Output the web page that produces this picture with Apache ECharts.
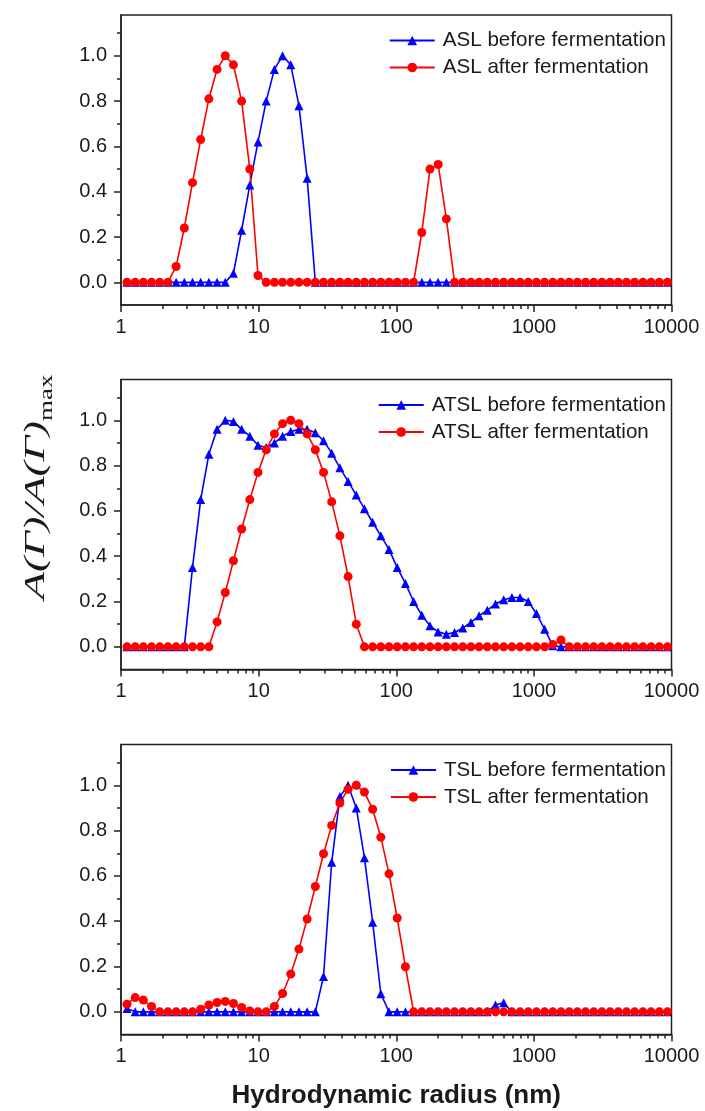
<!DOCTYPE html>
<html>
<head>
<meta charset="utf-8">
<script src="https://cdn.jsdelivr.net/npm/echarts@6/dist/echarts.min.js"></script>
<style>
  html, body { margin: 0; padding: 0; background: #fff; }
  #chart { width: 705px; height: 1111px; }
</style>
</head>
<body>
<div id="chart"></div>
<script>
// Hydrodynamic radius bins (nm), shared by all three size distributions
const radius = [
  1.105, 1.268, 1.454, 1.667, 1.912, 2.193, 2.515, 2.884, 3.308, 3.793,
  4.350, 4.989, 5.722, 6.561, 7.525, 8.630, 9.897, 11.35, 13.02, 14.93,
  17.12, 19.63, 22.52, 25.82, 29.62, 33.96, 38.95, 44.67, 51.23, 58.75,
  67.38, 77.27, 88.62, 101.6, 116.6, 133.7, 153.3, 175.8, 201.6, 231.2,
  265.2, 304.1, 348.8, 399.9, 458.7, 526.0, 603.3, 691.8, 793.5, 910.0,
  1043.5, 1196.7, 1372.5, 1574.0, 1805.2, 2070.1, 2374.1, 2722.7, 3122.5, 3580.9,
  4106.7, 4709.7, 5401.3, 6194.4, 7103.9, 8147.0, 9343.1
];

// A(Γ)/A(Γ)max for each sample
const aslBefore = [
  0, 0, 0, 0, 0, 0, 0, 0, 0, 0,
  0, 0, 0, 0.04, 0.23, 0.43, 0.62, 0.80, 0.94, 1.00,
  0.96, 0.78, 0.46, 0, 0, 0, 0, 0, 0, 0,
  0, 0, 0, 0, 0, 0, 0, 0, 0, 0,
  0, 0, 0, 0, 0, 0, 0, 0, 0, 0,
  0, 0, 0, 0, 0, 0, 0, 0, 0, 0,
  0, 0, 0, 0, 0, 0, 0
];
const aslAfter = [
  0, 0, 0, 0, 0, 0, 0.07, 0.24, 0.44, 0.63,
  0.81, 0.94, 1.00, 0.96, 0.80, 0.50, 0.03, 0, 0, 0,
  0, 0, 0, 0, 0, 0, 0, 0, 0, 0,
  0, 0, 0, 0, 0, 0, 0.22, 0.50, 0.52, 0.28,
  0, 0, 0, 0, 0, 0, 0, 0, 0, 0,
  0, 0, 0, 0, 0, 0, 0, 0, 0, 0,
  0, 0, 0, 0, 0, 0, 0
];
const atslBefore = [
  0, 0, 0, 0, 0, 0, 0, 0, 0.35, 0.65,
  0.85, 0.96, 1.00, 0.995, 0.96, 0.93, 0.89, 0.88, 0.90, 0.93,
  0.95, 0.96, 0.96, 0.945, 0.91, 0.855, 0.79, 0.73, 0.67, 0.61,
  0.55, 0.49, 0.43, 0.35, 0.28, 0.20, 0.14, 0.093, 0.066, 0.056,
  0.063, 0.083, 0.108, 0.137, 0.162, 0.189, 0.208, 0.218, 0.218, 0.20,
  0.147, 0.078, 0.005, 0, 0, 0, 0, 0, 0, 0,
  0, 0, 0, 0, 0, 0, 0
];
const atslAfter = [
  0, 0, 0, 0, 0, 0, 0, 0, 0, 0,
  0, 0.11, 0.24, 0.38, 0.52, 0.65, 0.77, 0.87, 0.94, 0.985,
  1.00, 0.985, 0.94, 0.87, 0.77, 0.64, 0.49, 0.31, 0.10, 0,
  0, 0, 0, 0, 0, 0, 0, 0, 0, 0,
  0, 0, 0, 0, 0, 0, 0, 0, 0, 0,
  0, 0, 0.01, 0.03, 0, 0, 0, 0, 0, 0,
  0, 0, 0, 0, 0, 0, 0
];
const tslBefore = [
  0.015, 0, 0, 0, 0, 0, 0, 0, 0, 0,
  0, 0, 0, 0, 0, 0, 0, 0, 0, 0,
  0, 0, 0, 0, 0.156, 0.66, 0.95, 1.00, 0.90, 0.68,
  0.395, 0.08, 0, 0, 0, 0, 0, 0, 0, 0,
  0, 0, 0, 0, 0, 0.03, 0.04, 0, 0, 0,
  0, 0, 0, 0, 0, 0, 0, 0, 0, 0,
  0, 0, 0, 0, 0, 0, 0
];
const tslAfter = [
  0.034, 0.063, 0.052, 0.024, 0, 0, 0, 0, 0, 0.012,
  0.03, 0.041, 0.046, 0.037, 0.019, 0.004, 0, 0, 0.024, 0.081,
  0.167, 0.277, 0.41, 0.553, 0.698, 0.823, 0.922, 0.982, 1.00, 0.97,
  0.894, 0.771, 0.609, 0.414, 0.199, 0, 0, 0, 0, 0,
  0, 0, 0, 0, 0, 0, 0, 0, 0, 0,
  0, 0, 0, 0, 0, 0, 0, 0, 0, 0,
  0, 0, 0, 0, 0, 0, 0
];

const sampleNames = ['ASL', 'ATSL', 'TSL'];
const beforeSeries = [aslBefore, atslBefore, tslBefore];
const afterSeries = [aslAfter, atslAfter, tslAfter];

// Axis ticks
const xTicks = [1, 10, 100, 1000, 10000];
const xMinorTicks = [
  2, 3, 4, 5, 6, 7, 8, 9,
  20, 30, 40, 50, 60, 70, 80, 90,
  200, 300, 400, 500, 600, 700, 800, 900,
  2000, 3000, 4000, 5000, 6000, 7000, 8000, 9000
];
const yTicks = [0, 0.2, 0.4, 0.6, 0.8, 1.0];
const yMinorTicks = [0.1, 0.3, 0.5, 0.7, 0.9, 1.1];

const xTitle = 'Hydrodynamic radius (nm)';

const BLUE = '#0000ff';
const RED = '#ff0000';
const INK = '#1a1a1a';
const SANS = '"Liberation Sans", Arial, sans-serif';
const SERIF = '"Liberation Serif", "Times New Roman", serif';

const gridTops = [15, 379.5, 744.5];
const GRID_LEFT = 121, GRID_W = 550.5, GRID_H = 290;

const grids = [], xAxes = [], yAxes = [], series = [], legends = [];

gridTops.forEach((top, i) => {
  grids.push({
    left: GRID_LEFT, top: top, width: GRID_W, height: GRID_H,
    show: true, borderColor: '#222', borderWidth: 1.5, backgroundColor: 'transparent'
  });

  const isLast = i === gridTops.length - 1;
  // main x axis: decades with labels
  xAxes.push({
    type: 'log', logBase: 10, gridIndex: i, min: 1, max: 10000, position: 'bottom',
    axisLine: { show: true, onZero: false, lineStyle: { color: '#222', width: 1.5 } },
    axisTick: { show: true, customValues: xTicks, length: 7, lineStyle: { color: '#222', width: 1.5 } },
    axisLabel: {
      customValues: xTicks, formatter: v => String(Math.round(v)),
      fontSize: 20, fontFamily: SANS, color: INK, margin: 12
    },
    splitLine: { show: false },
    name: isLast ? xTitle : '',
    nameLocation: 'middle', nameGap: 48,
    nameTextStyle: { fontSize: 26, fontWeight: 'bold', fontFamily: SANS, color: INK }
  });
  // minor x ticks
  xAxes.push({
    type: 'log', logBase: 10, gridIndex: i, min: 1, max: 10000, position: 'bottom',
    axisLine: { show: false, onZero: false },
    axisTick: { show: true, customValues: xMinorTicks, length: 4, lineStyle: { color: '#222', width: 1.5 } },
    axisLabel: { show: false },
    splitLine: { show: false }
  });

  // main y axis with labels
  yAxes.push({
    type: 'value', gridIndex: i, min: -0.1, max: 1.18, position: 'left',
    axisLine: { show: true, onZero: false, lineStyle: { color: '#222', width: 1.5 } },
    axisTick: { show: true, customValues: yTicks, length: 7, lineStyle: { color: '#222', width: 1.5 } },
    axisLabel: {
      customValues: yTicks, formatter: v => v.toFixed(1),
      fontSize: 20, fontFamily: SANS, color: INK, margin: 14
    },
    splitLine: { show: false }
  });
  // minor y ticks
  yAxes.push({
    type: 'value', gridIndex: i, min: -0.1, max: 1.18, position: 'left', offset: 0,
    axisLine: { show: false, onZero: false },
    axisTick: { show: true, customValues: yMinorTicks, length: 4, lineStyle: { color: '#222', width: 1.5 } },
    axisLabel: { show: false },
    splitLine: { show: false }
  });

  const nameBefore = sampleNames[i] + ' before fermentation';
  const nameAfter = sampleNames[i] + ' after fermentation';

  series.push({
    name: nameBefore, type: 'line', xAxisIndex: 2 * i, yAxisIndex: 2 * i,
    data: radius.map((r, k) => [r, beforeSeries[i][k]]),
    symbol: 'triangle', symbolSize: 9,
    lineStyle: { color: BLUE, width: 1.6 },
    itemStyle: { color: BLUE },
    animation: false
  });
  series.push({
    name: nameAfter, type: 'line', xAxisIndex: 2 * i, yAxisIndex: 2 * i,
    data: radius.map((r, k) => [r, afterSeries[i][k]]),
    symbol: 'circle', symbolSize: 9,
    lineStyle: { color: RED, width: 1.6 },
    itemStyle: { color: RED },
    animation: false
  });

  legends.push({
    data: [nameBefore, nameAfter],
    orient: 'vertical', right: 39, top: top + 15,
    itemWidth: 45, itemHeight: 12, itemGap: 6, padding: 0,
    textStyle: { fontSize: 20.6, fontFamily: SANS, color: INK, padding: [0, 0, 0, 3] }
  });
});

const chart = echarts.init(document.getElementById('chart'), null, { renderer: 'canvas' });
chart.setOption({
  animation: false,
  backgroundColor: '#fff',
  grid: grids,
  xAxis: xAxes,
  yAxis: yAxes,
  legend: legends,
  series: series,
  graphic: [{
    type: 'text',
    x: 36, y: 487,
    rotation: Math.PI / 2,
    scaleX: 1.5, scaleY: 1,
    style: {
      text: '{a|A(Γ)/A(Γ)}{b|max}',
      align: 'center', verticalAlign: 'middle',
      textAlign: 'center', textVerticalAlign: 'middle',
      rich: {
        a: { font: 'italic 30px ' + SERIF, fill: INK, color: INK, lineHeight: 40, verticalAlign: 'middle' },
        b: { font: '18px ' + SERIF, fill: INK, color: INK, lineHeight: 40, verticalAlign: 'bottom' }
      }
    }
  }]
});
</script>
</body>
</html>
